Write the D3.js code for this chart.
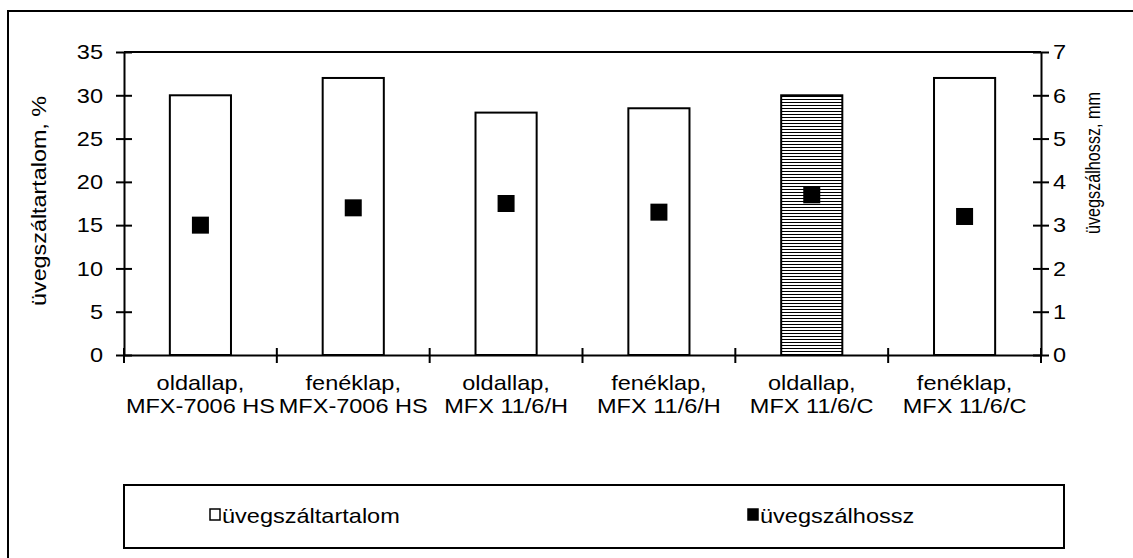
<!DOCTYPE html>
<html><head><meta charset="utf-8">
<script src="https://cdn.jsdelivr.net/npm/d3@7"></script>
<style>body{margin:0;background:#fff}svg{display:block}text{font-family:"Liberation Sans",Arial,sans-serif;fill:#000}</style>
</head><body>
<script>
const categories = [
  ["oldallap,", "MFX-7006 HS"],
  ["fenéklap,", "MFX-7006 HS"],
  ["oldallap,", "MFX 11/6/H"],
  ["fenéklap,", "MFX 11/6/H"],
  ["oldallap,", "MFX 11/6/C"],
  ["fenéklap,", "MFX 11/6/C"]
];
const contentValues = [30, 32, 28, 28.5, 30, 32];      // üvegszáltartalom, %
const lengthValues = [3.0, 3.4, 3.5, 3.3, 3.7, 3.2];    // üvegszálhossz, mm
const hatched = [false, false, false, false, true, false];
const leftTicks = [0, 5, 10, 15, 20, 25, 30, 35];
const rightTicks = [0, 1, 2, 3, 4, 5, 6, 7];
const seriesNames = ["üvegszáltartalom", "üvegszálhossz"];
const leftTitle = "üvegszáltartalom, %";
const rightTitle = "üvegszálhossz, mm";

const W = 1133, H = 558;
const m = {l:124, r:1041, t:52, b:355};
const fs = 21, sx = 1.12;

const svg = d3.select("body").append("svg").attr("width", W).attr("height", H);
const defs = svg.append("defs");
const pat = defs.append("pattern").attr("id","hatch").attr("patternUnits","userSpaceOnUse")
  .attr("width", 6).attr("height", 3);
pat.append("rect").attr("width",6).attr("height",3).attr("fill","#fff");
pat.append("rect").attr("y",0).attr("width",6).attr("height",1).attr("fill","#000");

function stretch(sel, k){
  sel.each(function(){
    const n = this;
    const L = n.getComputedTextLength();
    d3.select(n).attr("textLength", L*k).attr("lengthAdjust","spacingAndGlyphs");
  });
}

// outer border
svg.append("rect").attr("x",8).attr("y",11).attr("width",W+10).attr("height",H+10)
  .attr("fill","none").attr("stroke","#000").attr("stroke-width",2);

const x = d3.scaleBand().domain(d3.range(categories.length)).range([m.l, m.r]).paddingInner(0).paddingOuter(0);
const yL = d3.scaleLinear().domain([0,35]).range([m.b, m.t]);
const yR = d3.scaleLinear().domain([0,7]).range([m.b, m.t]);

// plot top border
svg.append("line").attr("x1",m.l).attr("x2",m.r).attr("y1",m.t).attr("y2",m.t).attr("stroke","#000").attr("stroke-width",2);

// bars
const bw = x.bandwidth()*0.4;
svg.selectAll("rect.bar").data(contentValues).join("rect").attr("class","bar")
  .attr("x",(d,i)=>x(i)+x.bandwidth()/2-bw/2)
  .attr("y",d=>yL(d)).attr("width",bw).attr("height",d=>yL(0)-yL(d))
  .attr("fill",(d,i)=>hatched[i]?"url(#hatch)":"#fff")
  .attr("stroke","#000").attr("stroke-width",2);

// axes
const axL = d3.axisLeft(yL).tickValues(leftTicks).tickFormat(d3.format("d")).tickSizeInner(0).tickSizeOuter(0).tickPadding(21);
const gL = svg.append("g").attr("transform",`translate(${m.l},0)`).call(axL);
const axR = d3.axisRight(yR).tickValues(rightTicks).tickFormat(d3.format("d")).tickSizeInner(0).tickSizeOuter(0).tickPadding(12);
const gR = svg.append("g").attr("transform",`translate(${m.r},0)`).call(axR);
const axB = d3.axisBottom(x).tickValues([]).tickSizeOuter(0);
const gB = svg.append("g").attr("transform",`translate(0,${m.b})`).call(axB);
[gL,gR,gB].forEach(g=>{
  g.select(".domain").attr("stroke","#000").attr("stroke-width",2);
  g.selectAll("text").attr("font-size",fs).attr("font-family",'"Liberation Sans",Arial,sans-serif').attr("fill","#000");
});
stretch(gL.selectAll("text"), sx);
stretch(gR.selectAll("text"), sx);
// cross ticks
gL.selectAll(".tick").append("line").attr("x1",-8).attr("x2",8).attr("stroke","#000").attr("stroke-width",2);
gR.selectAll(".tick").append("line").attr("x1",-8).attr("x2",8).attr("stroke","#000").attr("stroke-width",2);
const catBounds = d3.range(categories.length+1).map(i=>m.l+i*x.bandwidth());
svg.selectAll("line.ct").data(catBounds).join("line").attr("class","ct")
  .attr("x1",d=>d).attr("x2",d=>d).attr("y1",m.b-7).attr("y2",m.b+8)
  .attr("stroke","#000").attr("stroke-width",2);

// category labels
const cl = svg.selectAll("text.cat").data(categories).join("text").attr("class","cat")
  .attr("text-anchor","middle").attr("font-size",fs);
cl.each(function(d,i){
  const t = d3.select(this);
  d.forEach((s,j)=>t.append("tspan").attr("x",x(i)+x.bandwidth()/2).attr("y",390+j*23).text(s));
});
svg.selectAll("text.cat tspan").each(function(){
  const L = this.getComputedTextLength();
  d3.select(this).attr("textLength", L*sx).attr("lengthAdjust","spacingAndGlyphs");
});

// markers
const ms = 17;
svg.selectAll("rect.mk").data(lengthValues).join("rect").attr("class","mk")
  .attr("x",(d,i)=>x(i)+x.bandwidth()/2-ms/2).attr("y",d=>yR(d)-ms/2)
  .attr("width",ms).attr("height",ms).attr("fill","#000");

// axis titles
svg.append("text").attr("transform",`translate(46,201) rotate(-90)`)
  .attr("text-anchor","middle").attr("font-size",fs).attr("textLength",210).attr("lengthAdjust","spacingAndGlyphs").text(leftTitle);
svg.append("text").attr("transform",`translate(1100,163) rotate(-90)`)
  .attr("text-anchor","middle").attr("font-size",fs).attr("textLength",142).attr("lengthAdjust","spacingAndGlyphs").text(rightTitle);

// legend
svg.append("rect").attr("x",124).attr("y",485).attr("width",940).attr("height",63)
  .attr("fill","#fff").attr("stroke","#000").attr("stroke-width",2);
const leg = [{x:210, fill:"#fff"},{x:748, fill:"#000"}];
leg.forEach((l,i)=>{
  svg.append("rect").attr("x",l.x).attr("y",509).attr("width",10).attr("height",11)
    .attr("fill",l.fill).attr("stroke","#000").attr("stroke-width",1.5);
  const t = svg.append("text").attr("x",l.x+12).attr("y",523).attr("font-size",fs).text(seriesNames[i]);
  stretch(t, sx);
});
</script>
</body></html>
